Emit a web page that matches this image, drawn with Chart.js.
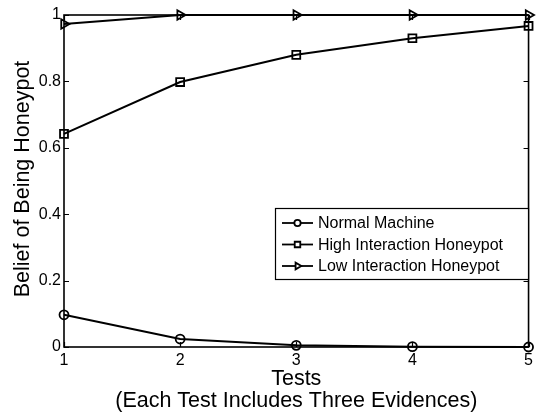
<!DOCTYPE html>
<html>
<head>
<meta charset="utf-8">
<script src="https://cdn.jsdelivr.net/npm/chart.js@4/dist/chart.umd.min.js"></script>
<style>
  html, body { margin: 0; padding: 0; background: #fff; }
  #wrap { width: 537px; height: 416px; }
</style>
</head>
<body>
<div id="wrap"><canvas id="chart" width="537" height="416"></canvas></div>
<script>
const tests = [1, 2, 3, 4, 5];
const normalMachine = [0.097, 0.024, 0.005, 0.001, 0.0];
const highInteraction = [0.642, 0.798, 0.880, 0.930, 0.967];
const lowInteraction = [0.973, 1.0, 1.0, 1.0, 1.0];
const yTicks = [0, 0.2, 0.4, 0.6, 0.8, 1];
const seriesNames = ['Normal Machine', 'High Interaction Honeypot', 'Low Interaction Honeypot'];

const FONT = 'Liberation Sans, Arial, sans-serif';

function pts(values) {
  return tests.map((t, i) => ({ x: t, y: values[i] }));
}

function series(label, values, style, radius, rotation) {
  return {
    label,
    data: pts(values),
    borderColor: '#000',
    borderWidth: 2,
    backgroundColor: 'rgba(0,0,0,0)',
    pointStyle: style,
    pointRadius: radius,
    pointRotation: rotation || 0,
    pointBorderColor: '#000',
    pointBackgroundColor: 'rgba(0,0,0,0)',
    pointBorderWidth: 1.8,
    tension: 0,
    clip: false,
  };
}

// frame, inward ticks, axis titles and legend in MATLAB style
const matlabFrame = {
  id: 'matlabFrame',
  afterDraw(chart) {
    const { ctx, chartArea: a, scales } = chart;
    ctx.save();
    ctx.strokeStyle = '#000';
    ctx.lineWidth = 1.6;
    ctx.strokeRect(a.left, a.top, a.right - a.left, a.bottom - a.top);

    const tl = 5;
    ctx.lineWidth = 1.2;
    ctx.beginPath();
    yTicks.forEach(v => {
      const y = Math.round(scales.y.getPixelForValue(v)) + 0.5;
      ctx.moveTo(a.left, y); ctx.lineTo(a.left + tl, y);
      ctx.moveTo(a.right, y); ctx.lineTo(a.right - tl, y);
    });
    tests.forEach(v => {
      const x = Math.round(scales.x.getPixelForValue(v)) + 0.5;
      ctx.moveTo(x, a.bottom); ctx.lineTo(x, a.bottom - tl);
      ctx.moveTo(x, a.top); ctx.lineTo(x, a.top + tl);
    });
    ctx.stroke();

    // axis titles
    ctx.fillStyle = '#000';
    ctx.font = '21.5px ' + FONT;
    ctx.textAlign = 'center';
    ctx.textBaseline = 'middle';
    const cx = (a.left + a.right) / 2;
    ctx.fillText('Tests', cx, 379);
    ctx.fillText('(Each Test Includes Three Evidences)', cx, 401);
    ctx.save();
    ctx.translate(23, 179);
    ctx.rotate(-Math.PI / 2);
    ctx.fillText('Belief of Being Honeypot', 0, 0);
    ctx.restore();

    // legend
    const bx = 275, by = 208, bw = 253, bh = 71;
    ctx.fillStyle = '#fff';
    ctx.fillRect(bx, by, bw, bh);
    ctx.lineWidth = 1.2;
    ctx.strokeRect(bx + 0.5, by + 0.5, bw, bh);
    ctx.font = '16px ' + FONT;
    ctx.textAlign = 'left';
    chart.data.datasets.forEach((ds, i) => {
      const y = by + 15 + i * 21.5;
      ctx.lineWidth = 1.8;
      ctx.beginPath();
      ctx.moveTo(282, y); ctx.lineTo(313, y);
      ctx.stroke();
      ctx.fillStyle = '#fff';
      Chart.helpers.drawPoint(ctx, {
        pointStyle: ds.pointStyle,
        rotation: ds.pointRotation,
        radius: ds.pointRadius * 0.7,
        borderWidth: 1.6,
      }, 297.5, y);
      ctx.fillStyle = '#000';
      ctx.fillText(seriesNames[i], 318, y + 1);
    });
    ctx.restore();
  }
};

new Chart(document.getElementById('chart'), {
  type: 'line',
  data: {
    datasets: [
      series(seriesNames[0], normalMachine, 'circle', 4.5),
      series(seriesNames[1], highInteraction, 'rect', 5.6),
      series(seriesNames[2], lowInteraction, 'triangle', 5.5, 90),
    ],
  },
  options: {
    responsive: false,
    animation: false,
    layout: { padding: { top: 15, right: 7, left: 0, bottom: 0 } },
    plugins: { legend: { display: false }, tooltip: { enabled: false } },
    scales: {
      x: {
        type: 'linear',
        min: 1,
        max: 5,
        afterFit(scale) { scale.height = 69; },
        afterBuildTicks(scale) { scale.ticks = tests.map(v => ({ value: v })); },
        grid: { display: false, drawTicks: false },
        border: { display: false },
        ticks: { color: '#000', padding: 4, font: { family: FONT, size: 16 } },
      },
      y: {
        min: 0,
        max: 1,
        afterFit(scale) { scale.width = 64; },
        afterBuildTicks(scale) { scale.ticks = yTicks.map(v => ({ value: v })); },
        grid: { display: false, drawTicks: false },
        border: { display: false },
        ticks: {
          color: '#000', padding: 3, font: { family: FONT, size: 16 },
          callback: v => String(Math.round(v * 10) / 10),
        },
      },
    },
  },
  plugins: [matlabFrame],
});
</script>
</body>
</html>
